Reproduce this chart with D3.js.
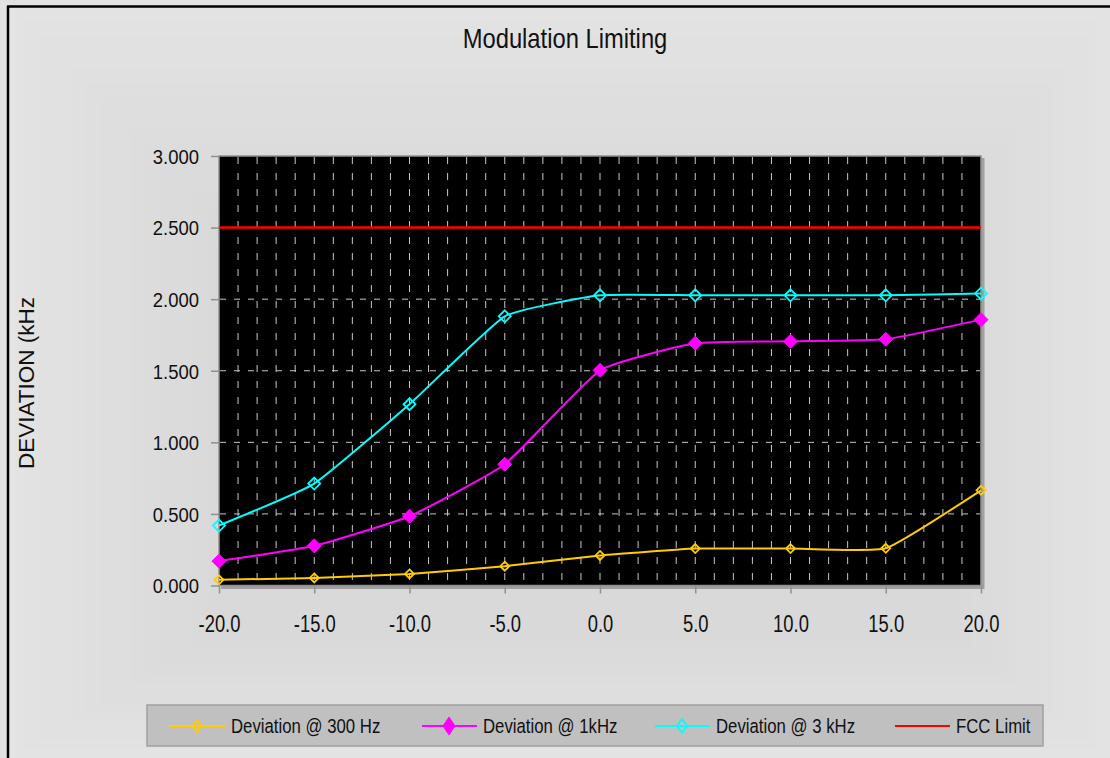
<!DOCTYPE html>
<html><head><meta charset="utf-8">
<script src="https://cdn.jsdelivr.net/npm/d3@7"></script>
<style>
html,body{margin:0;padding:0;background:#e2e2e2;}
svg{display:block;font-family:"Liberation Sans",Arial,sans-serif;}
</style></head>
<body>
<svg id="chart" width="1110" height="758"></svg>
<script>
const xValues = [-20, -15, -10, -5, 0, 5, 10, 15, 20];
const xTickLabels = ["-20.0","-15.0","-10.0","-5.0","0.0","5.0","10.0","15.0","20.0"];
const yTickValues = [0, 0.5, 1.0, 1.5, 2.0, 2.5, 3.0];
const yTickLabels = ["0.000","0.500","1.000","1.500","2.000","2.500","3.000"];
const dev300 = [0.04, 0.053, 0.081, 0.135, 0.21, 0.258, 0.258, 0.26, 0.665];
const dev1k  = [0.17, 0.277, 0.484, 0.847, 1.503, 1.692, 1.706, 1.72, 1.857];
const dev3k  = [0.419, 0.712, 1.266, 1.88, 2.027, 2.027, 2.027, 2.027, 2.04];
const fccLimit = [2.5, 2.5, 2.5, 2.5, 2.5, 2.5, 2.5, 2.5, 2.5];
const seriesNames = ["Deviation @ 300 Hz", "Deviation @ 1kHz", "Deviation @ 3 kHz", "FCC Limit"];
const seriesColors = ["#ffcc00", "#ff00ff", "#00ffff", "#ff0000"];

const svg = d3.select("#chart");
const W = 1110, H = 758;

// background with concentric rectangle gradient
const bg = svg.append("g");
const steps = 14;
const c0 = "#e3e3e3", c1 = "#d9d9d9";
for (let i = 0; i < steps; i++) {
  const t = i / (steps - 1);
  const x0 = 8 + t * 200, y0 = 6 + t * 200;
  const x1 = 1110 - t * 150, y1 = 758 - t * 120;
  bg.append("rect").attr("x", x0).attr("y", y0)
    .attr("width", Math.max(0, x1 - x0)).attr("height", Math.max(0, y1 - y0))
    .attr("fill", d3.interpolateRgb(c0, c1)(t));
}
// border left and top
svg.append("line").attr("x1", 8).attr("x2", 8).attr("y1", 6).attr("y2", H).attr("stroke", "#000").attr("stroke-width", 2.5);
svg.append("line").attr("x1", 7).attr("x2", W).attr("y1", 6.5).attr("y2", 6.5).attr("stroke", "#000").attr("stroke-width", 2.5);

const plot = {left: 219, top: 156, right: 981, bottom: 585.5};
const x = d3.scaleLinear().domain([-20, 20]).range([plot.left, plot.right]);
const y = d3.scaleLinear().domain([0, 3]).range([plot.bottom, plot.top]);

// plot area
svg.append("rect").attr("x", plot.left + 2).attr("y", plot.top + 2)
  .attr("width", plot.right - plot.left + 1.5).attr("height", plot.bottom - plot.top + 1.5)
  .attr("fill", "#a0a0a0");
svg.append("rect").attr("x", plot.left).attr("y", plot.top)
  .attr("width", plot.right - plot.left).attr("height", plot.bottom - plot.top)
  .attr("fill", "#000").attr("stroke", "#909090").attr("stroke-width", 1.5);

// gridlines
const grid = svg.append("g");
d3.range(-19, 20, 1).forEach(v => {
  grid.append("line").attr("x1", x(v)).attr("x2", x(v)).attr("y1", plot.top + 1).attr("y2", plot.bottom - 1)
    .attr("stroke", "#c8c8c8").attr("stroke-width", 1).attr("stroke-dasharray", "7,9");
});
yTickValues.filter(v => v > 0 && v < 3).forEach(v => {
  grid.append("line").attr("x1", plot.left + 1).attr("x2", plot.right - 1).attr("y1", y(v)).attr("y2", y(v))
    .attr("stroke", "#c8c8c8").attr("stroke-width", 1).attr("stroke-dasharray", "6,8");
});

// axes
const yAxis = d3.axisLeft(y).tickValues(yTickValues).tickFormat((d, i) => yTickLabels[i]).tickSize(8).tickPadding(0);
const ya = svg.append("g").attr("transform", `translate(${plot.left},0)`).call(yAxis);
ya.select(".domain").remove();
ya.selectAll(".tick line").attr("stroke", "#909090").attr("stroke-width", 1.5);
ya.selectAll(".tick text").attr("font-size", 21).attr("fill", "#111").attr("x", 0).attr("dy", "0.35em")
  .attr("font-family", "'Liberation Sans',Arial,sans-serif")
  .attr("transform", "translate(-20,0) scale(0.88,1)");

const xAxis = d3.axisBottom(x).tickValues(xValues).tickFormat((d, i) => xTickLabels[i]).tickSize(8).tickPadding(0);
const xa = svg.append("g").attr("transform", `translate(0,${plot.bottom})`).call(xAxis);
xa.select(".domain").remove();
xa.selectAll(".tick line").attr("stroke", "#909090").attr("stroke-width", 1.5);
xa.selectAll(".tick text").attr("font-size", 23).attr("fill", "#111").attr("dy", 0).attr("y", 0)
  .attr("font-family", "'Liberation Sans',Arial,sans-serif")
  .attr("transform", "translate(0,46) scale(0.8,1)");

// series lines
const curve = d3.curveCardinal.tension(0.6);
const allSeries = [dev300, dev1k, dev3k, fccLimit];
const lineGen = d3.line().x((d, i) => x(xValues[i])).y(d => y(d));
const lines = svg.append("g");
[3, 0, 1, 2].forEach(si => {
  lines.append("path").datum(allSeries[si])
    .attr("d", lineGen.curve(si === 3 ? d3.curveLinear : curve))
    .attr("fill", "none").attr("stroke", seriesColors[si]).attr("stroke-width", si === 3 ? 2.5 : 2);
});

function diamond(g, cx, cy, rx, ry, color, filled) {
  g.append("path").attr("d", `M${cx},${cy - ry}L${cx + rx},${cy}L${cx},${cy + ry}L${cx - rx},${cy}Z`)
    .attr("fill", filled ? color : "none").attr("stroke", color).attr("stroke-width", filled ? 1 : 1.8);
}
const marks = svg.append("g");
dev300.forEach((d, i) => diamond(marks, x(xValues[i]), y(d), 4.5, 4.5, seriesColors[0], false));
dev1k.forEach((d, i) => diamond(marks, x(xValues[i]), y(d), 7, 7, seriesColors[1], true));
dev3k.forEach((d, i) => diamond(marks, x(xValues[i]), y(d), 6, 6, seriesColors[2], false));

// title
svg.append("text").attr("x", 0).attr("y", 0).attr("text-anchor", "middle")
  .attr("font-size", 27).attr("fill", "#111").attr("transform", "translate(565,48) scale(0.88,1)")
  .text("Modulation Limiting");

// y label
svg.append("text").attr("transform", "translate(34,383) rotate(-90)").attr("text-anchor", "middle")
  .attr("font-size", 22.5).attr("fill", "#111").text("DEVIATION (kHz");

// legend
const lg = svg.append("g");
lg.append("rect").attr("x", 147).attr("y", 705).attr("width", 896).attr("height", 41)
  .attr("fill", "#c0c0c0").attr("stroke", "#a0a0a0").attr("stroke-width", 1.5);
const legendX = [170, 422, 655, 895];
const ly = 726;
seriesNames.forEach((name, i) => {
  const lx = legendX[i];
  lg.append("line").attr("x1", lx).attr("x2", lx + 55).attr("y1", ly).attr("y2", ly)
    .attr("stroke", seriesColors[i]).attr("stroke-width", 2);
  if (i === 0) diamond(lg, lx + 27, ly, 4, 6, seriesColors[0], false);
  if (i === 1) diamond(lg, lx + 27, ly, 6, 9, seriesColors[1], true);
  if (i === 2) diamond(lg, lx + 27, ly, 5, 7, seriesColors[2], false);
  const tx = lx + 61;
  lg.append("text").attr("x", 0).attr("y", 0)
    .attr("transform", `translate(${tx},${ly + 7}) scale(0.86,1)`)
    .attr("font-size", 19.5).attr("fill", "#111").text(name);
});
</script>
</body></html>
